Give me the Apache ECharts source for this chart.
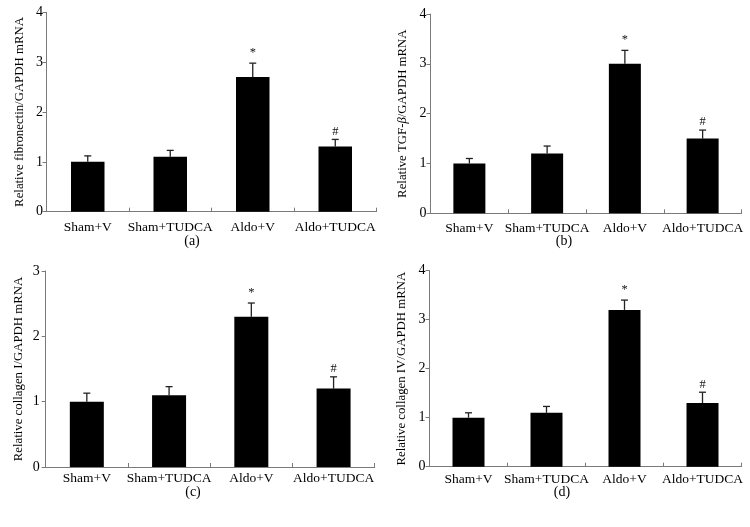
<!DOCTYPE html>
<html>
<head>
<meta charset="utf-8">
<script src="https://cdn.jsdelivr.net/npm/echarts@6/dist/echarts.min.js"></script>
<style>
html,body{margin:0;padding:0;background:#fff;}
#chart{width:750px;height:527px;}
</style>
</head>
<body>
<div id="chart"></div>
<script>
// ---- data ----
var categories = ['Sham+V', 'Sham+TUDCA', 'Aldo+V', 'Aldo+TUDCA'];
var fibronectin = [1.0, 1.1, 2.7, 1.31];
var fibronectinErr = [0.12, 0.13, 0.28, 0.14];
var tgfb = [1.0, 1.2, 3.0, 1.5];
var tgfbErr = [0.10, 0.15, 0.27, 0.17];
var collagenI = [1.0, 1.1, 2.3, 1.2];
var collagenIErr = [0.13, 0.13, 0.21, 0.18];
var collagenIV = [1.0, 1.1, 3.2, 1.3];
var collagenIVErr = [0.10, 0.13, 0.20, 0.22];
var marks = ['', '', '*', '#'];
var yMaxA = 4, yMaxB = 4, yMaxC = 3, yMaxD = 4;
var panelLabels = ['(a)', '(b)', '(c)', '(d)'];
var yNames = [
  'Relative fibronectin/GAPDH mRNA',
  'Relative TGF-{i|β}/GAPDH mRNA',
  'Relative collagen I/GAPDH mRNA',
  'Relative collagen IV/GAPDH mRNA'
];

var FONT = '"Liberation Serif", "DejaVu Serif", serif';
var AXIS_COLOR = '#7a7a7a';
var TEXT_COLOR = '#000';

var panels = [
  {vals: fibronectin, errs: fibronectinErr, max: yMaxA,
   grid: {left: 46.5, top: 12.3, width: 330, height: 199.4}, xMargin: 9, yNameGap: 20, yLabMargin: 3.5, cap: [192, 241], barW: 33.5},
  {vals: tgfb, errs: tgfbErr, max: yMaxB,
   grid: {left: 430.5, top: 14, width: 311, height: 199.3}, xMargin: 8, yNameGap: 21, yLabMargin: 4, cap: [564, 241], barW: 32},
  {vals: collagenI, errs: collagenIErr, max: yMaxC,
   grid: {left: 45.7, top: 271, width: 329, height: 196}, xMargin: 4.5, yNameGap: 21, yLabMargin: 6, cap: [193, 492], barW: 34},
  {vals: collagenIV, errs: collagenIVErr, max: yMaxD,
   grid: {left: 429.5, top: 270.7, width: 312, height: 196}, xMargin: 6, yNameGap: 21.5, yLabMargin: 4, cap: [562, 492], barW: 32}
];

var grids = [], xAxes = [], yAxes = [], series = [], graphics = [];

panels.forEach(function (p, i) {
  grids.push(Object.assign({outerBoundsMode: 'none', containLabel: false}, p.grid));
  xAxes.push({
    type: 'category', gridIndex: i, data: categories,
    axisLine: {lineStyle: {color: AXIS_COLOR, width: 1}},
    axisTick: {show: true, inside: true, length: 4, lineStyle: {color: AXIS_COLOR}},
    axisLabel: {color: TEXT_COLOR, fontFamily: FONT, fontSize: 13.5, margin: p.xMargin, interval: 0},
    splitLine: {show: false}
  });
  yAxes.push({
    type: 'value', gridIndex: i, min: 0, max: p.max, interval: 1,
    name: yNames[i], nameLocation: 'middle', nameGap: p.yNameGap, nameRotate: 90,
    nameTextStyle: {color: TEXT_COLOR, fontFamily: FONT, fontSize: 12.8,
      rich: {i: {fontStyle: 'italic', fontFamily: FONT, fontSize: 12.8, color: TEXT_COLOR}}},
    axisLine: {show: true, lineStyle: {color: AXIS_COLOR, width: 1}},
    axisTick: {show: true, length: 4, lineStyle: {color: AXIS_COLOR}},
    axisLabel: {color: TEXT_COLOR, fontFamily: FONT, fontSize: 14, margin: p.yLabMargin},
    splitLine: {show: false}
  });
  series.push({
    type: 'bar', xAxisIndex: i, yAxisIndex: i, data: p.vals,
    barWidth: p.barW, itemStyle: {color: '#000'}, silent: true, animation: false
  });
  var errData = p.vals.map(function (v, k) { return [k, v, v + p.errs[k], marks[k]]; });
  series.push({
    type: 'custom', xAxisIndex: i, yAxisIndex: i, data: errData, animation: false, silent: true,
    renderItem: function (params, api) {
      var base = api.coord([api.value(0), api.value(1)]);
      var top = api.coord([api.value(0), api.value(2)]);
      var mk = errData[params.dataIndex][3];
      var children = [
        {type: 'line', shape: {x1: base[0], y1: base[1], x2: top[0], y2: top[1]},
         style: {stroke: '#222', lineWidth: 1.3}},
        {type: 'line', shape: {x1: top[0] - 3.5, y1: top[1], x2: top[0] + 3.5, y2: top[1]},
         style: {stroke: '#222', lineWidth: 1.3}}
      ];
      if (mk) {
        children.push({type: 'text', x: top[0], y: top[1] - (mk === '*' ? 4 : 1.5),
          style: {text: mk, fontFamily: FONT, fontSize: 12.5, fill: '#111', align: 'center', verticalAlign: 'bottom'}});
      }
      return {type: 'group', children: children};
    }
  });
  graphics.push({type: 'text', x: p.cap[0], y: p.cap[1],
    style: {text: panelLabels[i], fontFamily: FONT, fontSize: 14, fill: TEXT_COLOR, align: 'center', verticalAlign: 'middle'}});
});

var chart = echarts.init(document.getElementById('chart'), null, {renderer: 'canvas'});
chart.setOption({
  backgroundColor: '#fff',
  animation: false,
  grid: grids, xAxis: xAxes, yAxis: yAxes, series: series, graphic: graphics
});
</script>
</body>
</html>
